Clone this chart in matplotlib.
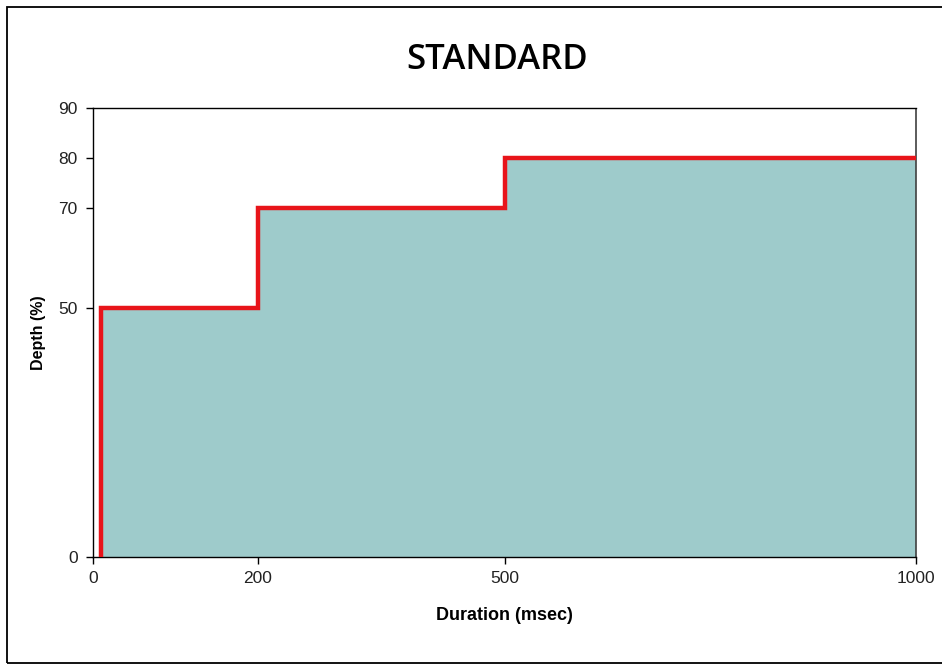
import matplotlib
matplotlib.use("Agg")
import matplotlib.pyplot as plt
from matplotlib.patches import Rectangle

duration = [10, 10, 200, 500, 1000]
depth = [0, 50, 70, 80, 80]
x_ticks = [0, 200, 500, 1000]
y_ticks = [0, 50, 70, 80, 90]

W, H = 942, 670
fig = plt.figure(figsize=(W / 100, H / 100), dpi=100)
ax = fig.add_axes([93 / W, 1 - 557 / H, (916 - 93) / W, (557 - 108) / H])

ax.fill_between(duration, depth, step="post", color="#9ECBCB", linewidth=0, zorder=1)
ax.step(duration, depth, where="post", color="#E8141A", linewidth=3.2, zorder=3,
        solid_joinstyle="miter", clip_on=True)

ax.set_xlim(0, 1000)
ax.set_ylim(0, 90)
ax.set_xticks(x_ticks)
ax.set_yticks(y_ticks)
ax.tick_params(axis="both", direction="out", length=5, width=1, colors="black",
               labelsize=12.5, labelcolor="#222222")
ax.tick_params(axis="y", pad=6)
ax.tick_params(axis="x", pad=5)
for lab in ax.get_xticklabels() + ax.get_yticklabels():
    lab.set_fontfamily("Liberation Sans")
for s in ["left", "bottom", "top"]:
    ax.spines[s].set_color("black")
    ax.spines[s].set_linewidth(1.0)
ax.spines["right"].set_color("#404040")
ax.spines["right"].set_linewidth(1.2)
ax.spines["right"].set_capstyle("butt")

ax.set_xlabel("Duration (msec)", fontsize=13, fontweight="bold", family="Liberation Sans", labelpad=15)
ax.set_ylabel("Depth (%)", fontsize=11.5, fontweight="bold", family="Liberation Sans", labelpad=9)

fig.text(497 / W, 1 - 60 / H, "STANDARD", ha="center", va="center", fontsize=25,
         family="Open Sans", fontweight="semibold")

fig.patches.append(Rectangle((7 / W, 7 / H), 2, 1 - 14 / H, transform=fig.transFigure,
                             fill=False, edgecolor="black", linewidth=1.3))

fig.savefig("out.png", dpi=100)
